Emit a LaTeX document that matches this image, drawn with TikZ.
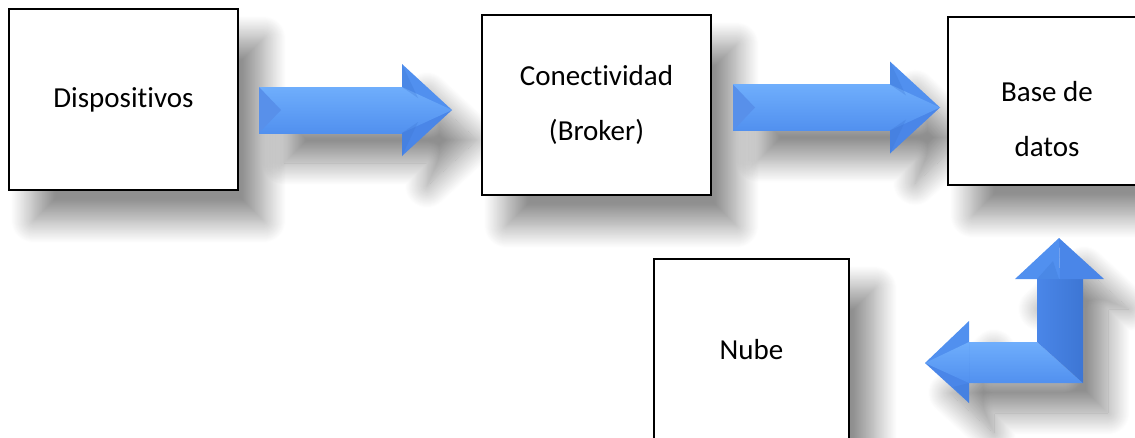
\documentclass[tikz,border=0pt]{standalone}
\usepackage{fontspec}
\setmainfont{Carlito}[Ligatures={NoCommon}]
\usetikzlibrary{shadows.blur}

\definecolor{azulclaro}{HTML}{6FAEFC}
\definecolor{azul}{HTML}{4A86E8}
\definecolor{azulmedio}{HTML}{5190EF}
\definecolor{azuloscuro}{HTML}{3D76D4}

\pgfdeclarelayer{fondo}
\pgfsetlayers{fondo,main}

\begin{document}
\begin{tikzpicture}[x=1pt, y=-1pt,
    every node/.style={font=\fontsize{29}{55}\selectfont},
    sombra/.style={blur shadow={shadow xshift=25pt, shadow yshift=-30pt, shadow blur radius=22pt, shadow blur steps=24, shadow opacity=44}},
    caja/.style={rectangle, draw=black, line width=1.8pt, fill=white, align=center, inner sep=0pt},
    texto/.style={align=center, inner sep=0pt},
    cuerpo/.style={top color=azulclaro, middle color=azuloscuro, bottom color=azulmedio},
    faceta/.style={fill=azuloscuro, opacity=.3}
  ]
    \clip (0,0) rectangle (1135,437);

    % cajas
    \node[caja, minimum width=229pt, minimum height=181pt] (disp) at (123.5,99.5) {Dispositivos};
    \node[caja, minimum width=229pt, minimum height=180pt] (con) at (596.5,105) {Conectividad\\(Broker)};
    \node[caja, minimum width=198pt, minimum height=168pt] (bd) at (1047,101) {};
    \node[texto] (bdtexto) at ([yshift=-18pt]bd.center) {Base de\\datos};
    \node[caja, minimum width=195pt, minimum height=182pt] (nube) at (751.5,350) {Nube};

    \begin{pgfonlayer}{fondo}
      \foreach \n in {disp,con,bd,nube}
        \path[sombra] (\n.north west) rectangle (\n.south east);
    \end{pgfonlayer}

    % flechas rectas: cola en f1 / f2, \largo = largo del cuerpo
    \coordinate (f1) at (259,110);
    \coordinate (f2) at (733,107.5);
    \foreach \pos/\largo in {f1/143, f2/157} {
      \begin{scope}[shift={(\pos)}]
        \begin{pgfonlayer}{fondo}
          \path[sombra] (0,-23) -- (\largo,-23) -- (\largo,-46) -- ({\largo+50},0) -- (\largo,46) -- (\largo,23) -- (0,23) -- cycle;
        \end{pgfonlayer}
        \path[cuerpo] (0,-23) rectangle (\largo,23);
        \fill[azul!92!white] (0,-23) -- (22,0) -- (0,23) -- cycle;
        \fill[azulmedio] (\largo,-46) -- ({\largo+50},0) -- (\largo,0) -- cycle;
        \fill[azul] (\largo,46) -- ({\largo+50},0) -- (\largo,0) -- cycle;
        \path[cuerpo] (\largo,-23) -- ({\largo+50},0) -- (\largo,23) -- cycle;
        \path[faceta] (\largo,-46) -- ({\largo+16},-12) -- (\largo,-23) -- cycle;
        \path[faceta] (\largo,46) -- ({\largo+16},12) -- (\largo,23) -- cycle;
      \end{scope}
    }

    % flecha en codo, esquina exterior en (codo)
    \coordinate (codo) at (1083,383);
    \begin{scope}[shift={(codo)}]
      \begin{pgfonlayer}{fondo}
        \path[sombra] (-158,-20) -- (-114,-62) -- (-114,-41) -- (-46,-41) -- (-46,-104) -- (-68,-104) -- (-24,-145)
          -- (21,-104) -- (0,-104) -- (0,0) -- (-114,0) -- (-114,20) -- cycle;
      \end{pgfonlayer}
      \path[cuerpo] (-114,-41) -- (-46,-41) -- (0,0) -- (-114,0) -- cycle;
      \path[left color=azul, right color=azuloscuro] (-46,-104) -- (0,-104) -- (0,0) -- (-46,-41) -- cycle;
      \fill[azulmedio] (-68,-104) -- (-24,-145) -- (-23,-104) -- cycle;
      \fill[azul] (21,-104) -- (-24,-145) -- (-23,-104) -- cycle;
      \path[faceta] (-46,-104) -- (-30,-122) -- (-24,-104) -- cycle;
      \fill[azulmedio] (-158,-20) -- (-114,-62) -- (-114,-20) -- cycle;
      \fill[azul] (-158,-20) -- (-114,20) -- (-114,-20) -- cycle;
      \path[cuerpo] (-114,-41) -- (-158,-20) -- (-114,0) -- cycle;
      \path[faceta] (-114,20) -- (-130,4) -- (-114,0) -- cycle;
    \end{scope}
  \end{tikzpicture}
\end{document}
